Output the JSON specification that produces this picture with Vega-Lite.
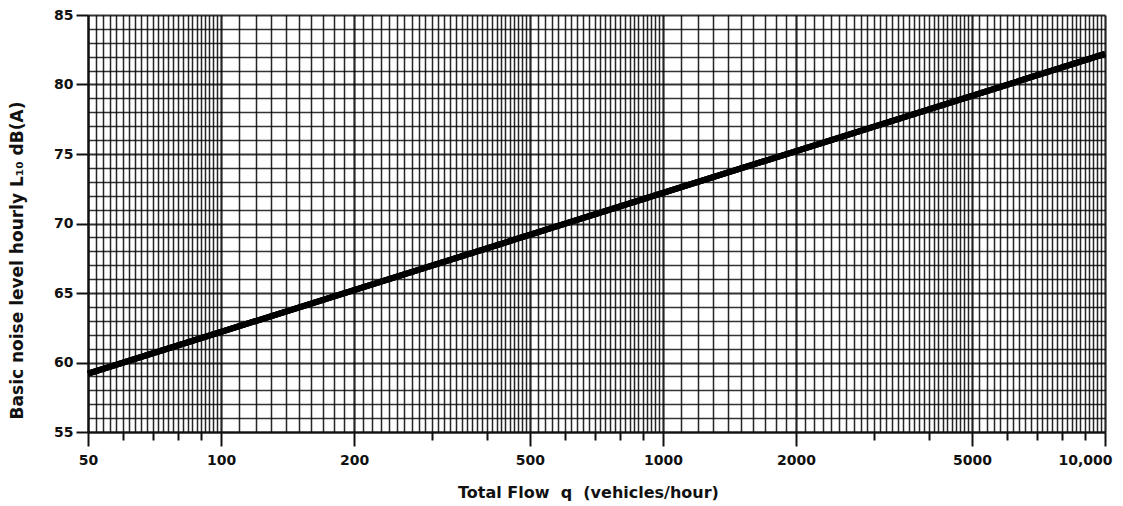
{
  "$schema": "https://vega.github.io/schema/vega-lite/v6.json",
  "width": 1017,
  "height": 417,
  "autosize": {"type": "none"},
  "padding": {"left": 88, "top": 15, "right": 18, "bottom": 74},
  "background": "white",
  "config": {
    "view": {"stroke": null},
    "axis": {"labelFont": "DejaVu Sans", "titleFont": "DejaVu Sans", "labelFontWeight": "bold", "titleFontWeight": "bold", "labelColor": "#111", "titleColor": "#111", "tickColor": "#111", "domainColor": "#111", "labelFontSize": 14, "titleFontSize": 16, "labelFlush": false}
  },
  "data": {"values": [
    {"q": 50, "L10": 59.2},
    {"q": 100, "L10": 62.2},
    {"q": 1000, "L10": 72.2},
    {"q": 10000, "L10": 82.2}
  ]},
  "resolve": {"axis": {"x": "independent", "y": "independent"}},
  "layer": [
    {
      "mark": {"type": "line", "color": "black", "strokeWidth": 6},
      "encoding": {
        "x": {"field": "q", "type": "quantitative",
          "scale": {"type": "log", "domain": [50, 10000], "nice": false},
          "axis": {"orient": "bottom", "labels": false, "ticks": false, "domain": false, "title": null, "grid": true,
            "gridColor": "#000", "gridOpacity": 0.85,
            "gridWidth": {"condition": {"test": "indexof([50,100,200,500,1000,2000,5000,10000], datum.value) >= 0", "value": 2.2}, "value": 1.5},
            "values": [50,52,54,56,58,60,62,64,66,68,70,72,74,76,78,80,82,84,86,88,90,92,94,96,98,
              100,110,120,130,140,150,160,170,180,190,200,210,220,230,240,250,260,270,280,290,300,310,320,330,340,350,360,370,380,390,400,410,420,430,440,450,460,470,480,490,
              500,520,540,560,580,600,620,640,660,680,700,720,740,760,780,800,820,840,860,880,900,920,940,960,980,
              1000,1100,1200,1300,1400,1500,1600,1700,1800,1900,2000,2100,2200,2300,2400,2500,2600,2700,2800,2900,3000,3100,3200,3300,3400,3500,3600,3700,3800,3900,4000,4100,4200,4300,4400,4500,4600,4700,4800,4900,
              5000,5200,5400,5600,5800,6000,6200,6400,6600,6800,7000,7200,7400,7600,7800,8000,8200,8400,8600,8800,9000,9200,9400,9600,9800,10000]}},
        "y": {"field": "L10", "type": "quantitative",
          "scale": {"domain": [55, 85], "nice": false, "zero": false},
          "axis": {"orient": "left", "labels": false, "ticks": false, "domain": false, "title": null, "grid": true,
            "gridColor": "#000", "gridOpacity": 0.8,
            "gridWidth": {"condition": {"test": "datum.value % 5 == 0", "value": 1.8}, "value": 1.3},
            "values": [55,56,57,58,59,60,61,62,63,64,65,66,67,68,69,70,71,72,73,74,75,76,77,78,79,80,81,82,83,84,85]}}
      }
    },
    {
      "mark": {"type": "line", "color": "black", "strokeWidth": 6},
      "encoding": {
        "x": {"field": "q", "type": "quantitative",
          "scale": {"type": "log", "domain": [50, 10000], "nice": false},
          "axis": {"orient": "bottom", "labels": false, "ticks": true, "tickSize": 8, "tickWidth": 2, "domain": false, "title": null, "grid": false,
            "values": [60,70,80,90,300,400,600,700,800,900,3000,4000,6000,7000,8000,9000]}},
        "y": {"field": "L10", "type": "quantitative",
          "scale": {"domain": [55, 85], "nice": false, "zero": false},
          "axis": null}
      }
    },
    {
      "mark": {"type": "line", "color": "black", "strokeWidth": 6},
      "encoding": {
        "x": {"field": "q", "type": "quantitative",
          "scale": {"type": "log", "domain": [50, 10000], "nice": false},
          "axis": {"orient": "bottom", "grid": false, "domain": true, "domainWidth": 2, "tickSize": 14, "tickWidth": 2, "labelPadding": 7,
            "values": [50,100,200,500,1000,2000,5000,10000],
            "labelExpr": "datum.value == 10000 ? '10,000' : '' + datum.value",
            "labelAlign": {"condition": {"test": "datum.value == 10000", "value": "right"}, "value": "center"},
            "labelOffset": {"condition": {"test": "datum.value == 10000", "value": 7}, "value": 0},
            "title": "Total Flow\u00a0\u00a0q\u00a0\u00a0(vehicles/hour)", "titleX": 500, "titleY": 52, "titleBaseline": "top", "titleAnchor": "middle", "titleAlign": "center"}},
        "y": {"field": "L10", "type": "quantitative",
          "scale": {"domain": [55, 85], "nice": false, "zero": false},
          "axis": {"orient": "left", "grid": false, "domain": true, "domainWidth": 2, "tickSize": 12, "tickWidth": 2, "labelPadding": 3,
            "values": [55,60,65,70,75,80,85],
            "title": "Basic noise level hourly L₁₀ dB(A)", "titleFontSize": 17, "titleX": -62, "titleY": 245, "titleAlign": "center", "titleAngle": 270, "titleBaseline": "bottom"}}
      }
    }
  ]
}
